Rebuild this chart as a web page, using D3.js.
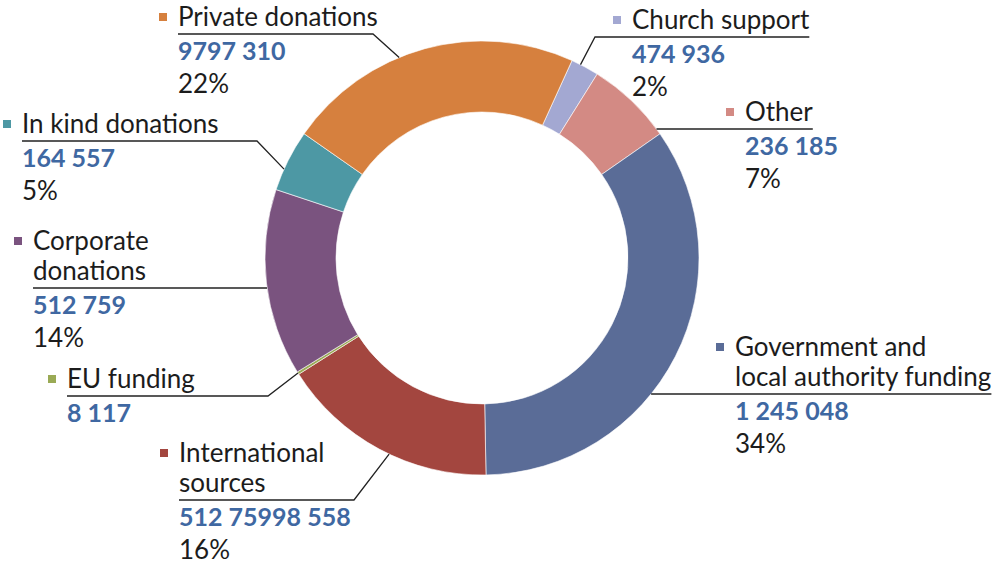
<!DOCTYPE html>
<html>
<head>
<meta charset="utf-8">
<script src="https://cdn.jsdelivr.net/npm/d3@7"></script>
<style>
body { margin: 0; background: #fff; }
svg { display: block; }
text { font-family: Lato, "Open Sans", sans-serif; }
</style>
</head>
<body>
<svg></svg>
<script>
// slices in clockwise order, starting just right of 12 o'clock
let categories = ["Church support", "Other", "Government and\nlocal authority funding", "International\nsources",
                  "EU funding", "Corporate\ndonations", "In kind donations", "Private donations"];
let amounts = ["474 936", "236 185", "1 245 048", "512 75998 558", "8 117", "512 759", "164 557", "9797 310"];
let percentLabels = ["2%", "7%", "34%", "16%", "", "14%", "5%", "22%"];
// share of the ring (percent)
let shares = [2.1, 6.4, 34.4, 16.3, 0.2, 13.9, 4.6, 22.1];

let colors = ["#a3a8d2", "#d38a84", "#5a6c97", "#a3463f", "#9aaa55", "#7a537f", "#4d98a4", "#d6803e"];

let width = 994;
let height = 567;
let cx = 482, cy = 258;
let outerR = 217, innerR = 146;
let startDeg = 24.5;

let lineGap = 30;
let numberColor = "#3f68a2";
let textColor = "#1c1c1c";

// where each label sits; bend = x where the underline turns toward the ring (null: runs straight to it)
let layout = [
    {x: 632, y: 29,  side: "right", bend: 595, t: 0.33},
    {x: 745, y: 121, side: "right", bend: null},
    {x: 735, y: 356, side: "right", bend: null},
    {x: 179, y: 462, side: "left",  bend: 354, t: 0.45},
    {x: 67,  y: 388, side: "left",  bend: 268, t: 0.5},
    {x: 33,  y: 250, side: "left",  bend: null},
    {x: 22,  y: 133, side: "left",  bend: 257, t: 0.35},
    {x: 178, y: 26,  side: "left",  bend: 373, t: 0.41}
];

let svg = d3.select("svg")
            .attr("width", width)
            .attr("height", height);

let pie = d3.pie()
            .sort(null)
            .value((d) => d)
            .startAngle(startDeg * Math.PI / 180)
            .endAngle((startDeg + 360) * Math.PI / 180);

let arcs = pie(shares);

let arc = d3.arc()
            .innerRadius(innerR)
            .outerRadius(outerR);

let ring = svg.append("g")
              .attr("transform", "translate(" + cx + "," + cy + ")");

ring.selectAll("path")
    .data(arcs)
    .enter()
    .append("path")
    .attr("d", arc)
    .attr("fill", (d, i) => colors[i])
    .attr("stroke", "#ffffff")
    .attr("stroke-width", 0.6);

let labels = svg.append("g");

arcs.forEach((d, i) => {
    let lay = layout[i];
    let lines = categories[i].split("\n");
    let g = labels.append("g");

    g.append("rect")
     .attr("x", lay.x - 19)
     .attr("y", lay.y - 13)
     .attr("width", 8)
     .attr("height", 8)
     .attr("fill", colors[i]);

    let maxW = 0;
    lines.forEach((ln, k) => {
        let t = g.append("text")
                 .attr("x", lay.x)
                 .attr("y", lay.y + k * lineGap)
                 .attr("font-size", 26)
                 .attr("fill", textColor)
                 .text(ln);
        maxW = Math.max(maxW, t.node().getComputedTextLength());
    });

    let lastY = lay.y + (lines.length - 1) * lineGap;
    let uy = lastY + 8;

    g.append("text")
     .attr("x", lay.x)
     .attr("y", uy + 26)
     .attr("font-size", 25)
     .attr("font-weight", "bold")
     .attr("fill", numberColor)
     .text(amounts[i]);

    if (percentLabels[i] !== "") {
        g.append("text")
         .attr("x", lay.x)
         .attr("y", uy + 59)
         .attr("font-size", 26)
         .attr("fill", textColor)
         .text(percentLabels[i]);
    }

    // leader line
    let pts;
    if (lay.bend === null) {
        let dx = Math.sqrt(outerR * outerR - (uy - cy) * (uy - cy));
        let ringX = lay.side === "right" ? cx + dx : cx - dx;
        pts = lay.side === "right" ? [[ringX, uy], [lay.x + maxW, uy]] : [[lay.x, uy], [ringX, uy]];
    } else {
        let a = d.startAngle + lay.t * (d.endAngle - d.startAngle);
        let ax = cx + outerR * Math.sin(a);
        let ay = cy - outerR * Math.cos(a);
        pts = lay.side === "right"
            ? [[ax, ay], [lay.bend, uy], [lay.x + maxW, uy]]
            : [[lay.x, uy], [lay.bend, uy], [ax, ay]];
    }

    g.append("path")
     .attr("d", d3.line()(pts))
     .attr("fill", "none")
     .attr("stroke", "#222")
     .attr("stroke-width", 1.3);
});
</script>
</body>
</html>
